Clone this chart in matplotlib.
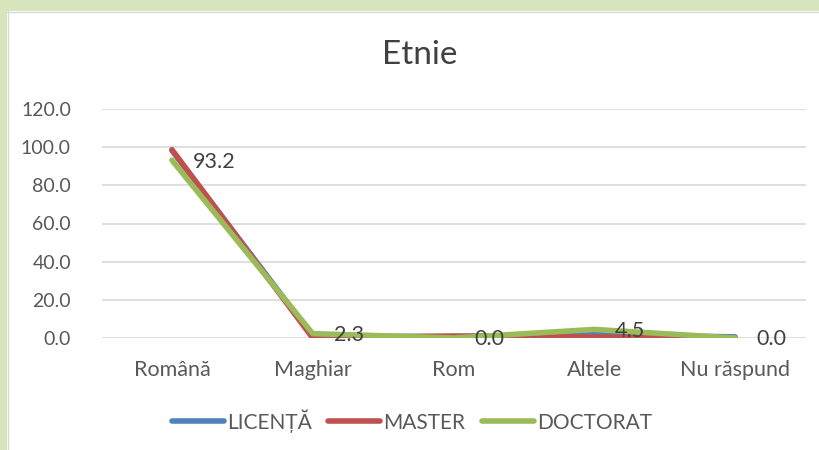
import matplotlib
matplotlib.use("Agg")
import matplotlib.pyplot as plt
from matplotlib.patches import Rectangle

categories = ["Română", "Maghiar", "Rom", "Altele", "Nu răspund"]
series_names = ["LICENȚĂ", "MASTER", "DOCTORAT"]
licenta = [98.3, 1.0, 0.8, 1.8, 0.6]
master = [98.7, 0.0, 1.0, 0.5, 0.0]
doctorat = [93.2, 2.3, 0.0, 4.5, 0.0]
yticks = [0, 20, 40, 60, 80, 100, 120]

colors = ["#4F81BD", "#C0504D", "#9BBB59"]
text_color = "#595959"

plt.rcParams["font.family"] = ["Lato", "DejaVu Sans"]

W, H = 819, 450
fig = plt.figure(figsize=(W / 100, H / 100), dpi=100, facecolor="white")

# green frame
fig.patches.append(Rectangle((0, 1 - 11 / H), 1, 11 / H, transform=fig.transFigure,
                             facecolor="#D8E4BC", edgecolor="none", zorder=0))
fig.patches.append(Rectangle((0, 0), 7 / W, 1, transform=fig.transFigure,
                             facecolor="#D8E4BC", edgecolor="none", zorder=0))
fig.lines.append(plt.Line2D([7 / W, 1], [1 - 11.5 / H, 1 - 11.5 / H], transform=fig.transFigure,
                            color="#D9D9D9", lw=1))
fig.lines.append(plt.Line2D([7.5 / W, 7.5 / W], [0, 1 - 11 / H], transform=fig.transFigure,
                            color="#D9D9D9", lw=1))

left, right = 101.5 / W, 805.5 / W
bottom, top = 1 - 338 / H, 1 - 109 / H
ax = fig.add_axes([left, bottom, right - left, top - bottom])
ax.set_facecolor("none")

x = list(range(len(categories)))
for vals, name, c in zip([licenta, master, doctorat], series_names, colors):
    ax.plot(x, vals, color=c, lw=4.0, label=name, solid_capstyle="round",
            solid_joinstyle="round", zorder=3)

for xi, v in zip(x, doctorat):
    ax.annotate(f"{v:.1f}", (xi, v), xytext=(15, -1), textcoords="offset points",
                ha="left", va="center", fontsize=15.5, color="#404040", zorder=4)

ax.set_xlim(-0.5, len(categories) - 0.5)
ax.set_ylim(0, 120)
ax.set_yticks(yticks)
ax.set_yticklabels([f"{v:.1f}" for v in yticks])
ax.set_xticks(x)
ax.set_xticklabels(categories)
ax.grid(axis="y", color="#D9D9D9", lw=1.2)
ax.set_axisbelow(True)
for s in ax.spines.values():
    s.set_visible(False)
ax.tick_params(axis="y", length=0, labelsize=14, colors=text_color, pad=22)
ax.tick_params(axis="x", length=0, labelsize=15.5, colors=text_color, pad=16)

fig.text(420 / W, 1 - 55 / H, "Etnie", ha="center", va="center", fontsize=24, color="#404040")

leg = fig.legend(loc="center", bbox_to_anchor=(412 / W, 1 - 421 / H), ncol=3, frameon=False,
                 fontsize=15, handlelength=2.5, handletextpad=0.15, columnspacing=0.8)
for t in leg.get_texts():
    t.set_color(text_color)

fig.savefig("out.png", dpi=100, facecolor="white")
